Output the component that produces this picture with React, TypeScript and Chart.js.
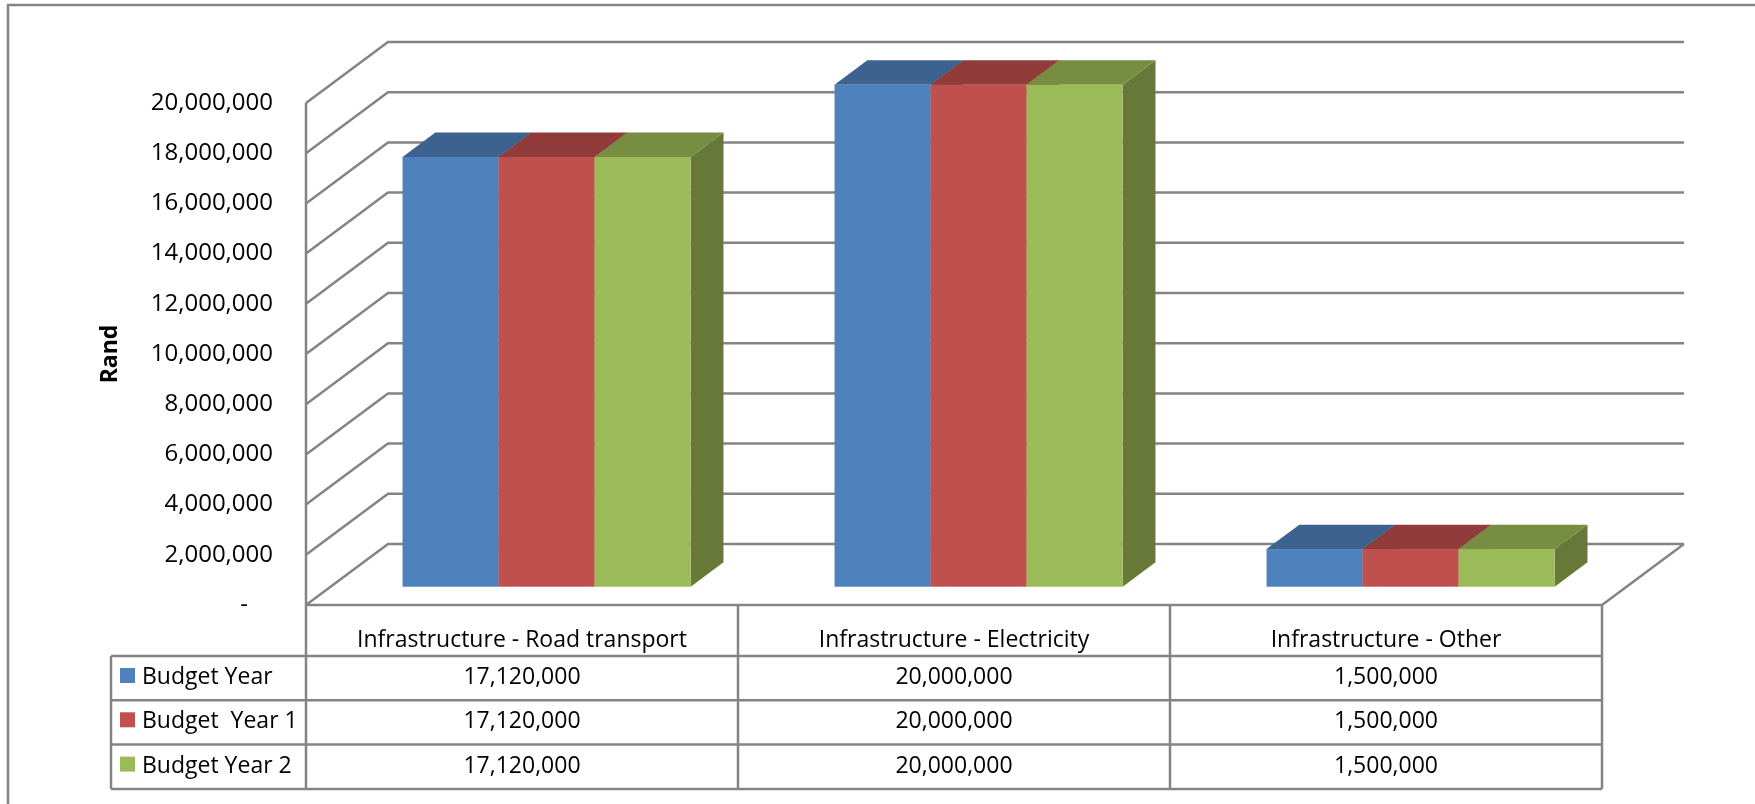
import React, { useEffect, useRef } from "react";
import { Chart, registerables } from "chart.js";

Chart.register(...registerables);

// ---------- data ----------
const categories = [
  "Infrastructure - Road transport",
  "Infrastructure - Electricity",
  "Infrastructure - Other",
];
const seriesNames = ["Budget Year", "Budget  Year 1", "Budget Year 2"];
const budgetYear = [17120000, 20000000, 1500000];
const budgetYear1 = [17120000, 20000000, 1500000];
const budgetYear2 = [17120000, 20000000, 1500000];
const yTickValues = [
  0, 2000000, 4000000, 6000000, 8000000, 10000000, 12000000, 14000000,
  16000000, 18000000, 20000000,
];
const axisTitle = "Rand";

// ---------- styles ----------
const FONT = "'Open Sans', 'Noto Sans', sans-serif";
const FONT_SIZE = 23;
const TICK_FONT_SIZE = 24;
const frontColors = ["#4F81BD", "#C0504D", "#9BBB59"];
const topColors = ["#3D628F", "#913C3A", "#778E42"];
const sideColors = ["#37577F", "#7F3533", "#667939"];
const GRID = "#848484";
const GRID_W = 2.5;
const DEPTH_DX = 82;
const DEPTH_DY = -61;
const BAR_FRONT = 0.3;
const BAR_BACK = 0.7;

const fmt = (v: number) => v.toLocaleString("en-US");

const threeD = {
  id: "threeD",
  beforeDatasetsDraw(chart: any) {
    const { ctx, chartArea } = chart;
    const y = chart.scales.y;
    const left = chartArea.left;
    const right = chartArea.right;
    const y0 = y.getPixelForValue(0);
    const yMax = y.getPixelForValue(yTickValues[yTickValues.length - 1]);
    ctx.save();
    ctx.strokeStyle = GRID;
    ctx.lineWidth = GRID_W;
    ctx.lineJoin = "miter";
    for (const v of yTickValues) {
      const yf = y.getPixelForValue(v);
      ctx.beginPath();
      ctx.moveTo(left, yf);
      ctx.lineTo(left + DEPTH_DX, yf + DEPTH_DY);
      ctx.lineTo(right + DEPTH_DX, yf + DEPTH_DY);
      ctx.stroke();
    }
    // front vertical edge of side wall
    ctx.beginPath();
    ctx.moveTo(left, yMax);
    ctx.lineTo(left, y0);
    ctx.stroke();
    // floor front + right edge
    ctx.beginPath();
    ctx.moveTo(left, y0);
    ctx.lineTo(right, y0);
    ctx.lineTo(right + DEPTH_DX, y0 + DEPTH_DY);
    ctx.stroke();
    ctx.restore();
  },
  beforeDatasetDraw() {
    return false;
  },
  afterDatasetsDraw(chart: any) {
    const { ctx } = chart;
    const fx = DEPTH_DX * BAR_FRONT;
    const fy = DEPTH_DY * BAR_FRONT;
    const bx = DEPTH_DX * (BAR_BACK - BAR_FRONT);
    const by = DEPTH_DY * (BAR_BACK - BAR_FRONT);
    const nCat = categories.length;
    const nDs = chart.data.datasets.length;
    ctx.save();
    for (let j = 0; j < nCat; j++) {
      for (let i = 0; i < nDs; i++) {
        const el = chart.getDatasetMeta(i).data[j];
        const p = el.getProps(["x", "y", "base", "width"], true);
        const l = p.x - p.width / 2 + fx;
        const r = p.x + p.width / 2 + fx;
        const t = p.y + fy;
        const b = p.base + fy;
        // side
        ctx.fillStyle = sideColors[i];
        ctx.beginPath();
        ctx.moveTo(r, t);
        ctx.lineTo(r + bx, t + by);
        ctx.lineTo(r + bx, b + by);
        ctx.lineTo(r, b);
        ctx.closePath();
        ctx.fill();
        // top
        ctx.fillStyle = topColors[i];
        ctx.beginPath();
        ctx.moveTo(l, t);
        ctx.lineTo(l + bx, t + by);
        ctx.lineTo(r + bx, t + by);
        ctx.lineTo(r, t);
        ctx.closePath();
        ctx.fill();
        // front
        ctx.fillStyle = frontColors[i];
        ctx.fillRect(l, t, r - l, b - t);
      }
    }
    ctx.restore();
  },
  afterDraw(chart: any) {
    const { ctx, chartArea } = chart;
    const y = chart.scales.y;
    const x = chart.scales.x;
    const y0 = y.getPixelForValue(0);
    const nCat = categories.length;
    const colW = (chartArea.right - chartArea.left) / nCat;
    const headerH = 51;
    const rowH = 44.3;
    const legendLeft = 111;
    const tableBottom = y0 + headerH + rowH * seriesNames.length;
    ctx.save();
    ctx.strokeStyle = GRID;
    ctx.lineWidth = GRID_W;
    // horizontal lines
    for (let k = 0; k <= seriesNames.length; k++) {
      const yy = y0 + headerH + rowH * k;
      ctx.beginPath();
      ctx.moveTo(legendLeft, yy);
      ctx.lineTo(chartArea.right, yy);
      ctx.stroke();
    }
    // vertical lines
    for (let j = 0; j <= nCat; j++) {
      const xx = chartArea.left + colW * j;
      ctx.beginPath();
      ctx.moveTo(xx, y0);
      ctx.lineTo(xx, tableBottom);
      ctx.stroke();
    }
    ctx.beginPath();
    ctx.moveTo(legendLeft, y0 + headerH);
    ctx.lineTo(legendLeft, tableBottom);
    ctx.stroke();

    ctx.fillStyle = "#000";
    ctx.font = `${FONT_SIZE}px ${FONT}`;
    ctx.textBaseline = "alphabetic";
    ctx.textAlign = "center";
    for (let j = 0; j < nCat; j++) {
      const cx = x.getPixelForValue(j);
      ctx.fillText(categories[j], cx, y0 + 42);
    }
    const series = chart.data.datasets;
    for (let i = 0; i < series.length; i++) {
      const rowTop = y0 + headerH + rowH * i;
      const base = rowTop + 28;
      ctx.fillStyle = frontColors[i];
      ctx.fillRect(120, rowTop + 12, 15, 15);
      ctx.fillStyle = "#000";
      ctx.textAlign = "left";
      ctx.fillText(series[i].label, 142, base);
      ctx.textAlign = "center";
      for (let j = 0; j < nCat; j++) {
        ctx.fillText(fmt(series[i].data[j]), x.getPixelForValue(j), base);
      }
    }
    // outer chart border (top and left)
    ctx.beginPath();
    ctx.moveTo(8, 804);
    ctx.lineTo(8, 5);
    ctx.lineTo(1755, 5);
    ctx.stroke();
    ctx.restore();
  },
};

export default function App() {
  const ref = useRef<HTMLCanvasElement | null>(null);
  useEffect(() => {
    if (!ref.current) return;
    const chart = new Chart(ref.current, {
      type: "bar",
      data: {
        labels: categories,
        datasets: [
          { label: seriesNames[0], data: budgetYear, backgroundColor: frontColors[0] },
          { label: seriesNames[1], data: budgetYear1, backgroundColor: frontColors[1] },
          { label: seriesNames[2], data: budgetYear2, backgroundColor: frontColors[2] },
        ],
      },
      options: {
        responsive: false,
        animation: false,
        devicePixelRatio: 1,
        layout: { padding: { left: 0, top: 103, right: 153, bottom: 199 } },
        datasets: { bar: { categoryPercentage: 0.667, barPercentage: 1 } },
        plugins: { legend: { display: false }, tooltip: { enabled: false } },
        scales: {
          x: { display: false, offset: true },
          y: {
            min: 0,
            max: 20000000,
            afterBuildTicks: (scale: any) => {
              scale.ticks = yTickValues.map((v) => ({ value: v }));
            },
            afterFit: (scale: any) => {
              scale.width = 306;
            },
            grid: { display: false, drawTicks: false },
            border: { display: false },
            ticks: {
              padding: 33,
              color: "#000",
              font: { family: FONT, size: TICK_FONT_SIZE },
              callback: (v: any) => (Number(v) === 0 ? "-    " : fmt(Number(v))),
            },
            title: {
              display: true,
              text: axisTitle,
              color: "#000",
              font: { family: FONT, size: FONT_SIZE, weight: "bold" },
              padding: { top: 97, bottom: 0 },
            },
          },
        },
      },
      plugins: [threeD],
    } as any);
    return () => chart.destroy();
  }, []);
  return (
    <canvas
      ref={ref}
      width={1755}
      height={804}
      style={{ position: "fixed", left: 0, top: 0, display: "block" }}
    />
  );
}
